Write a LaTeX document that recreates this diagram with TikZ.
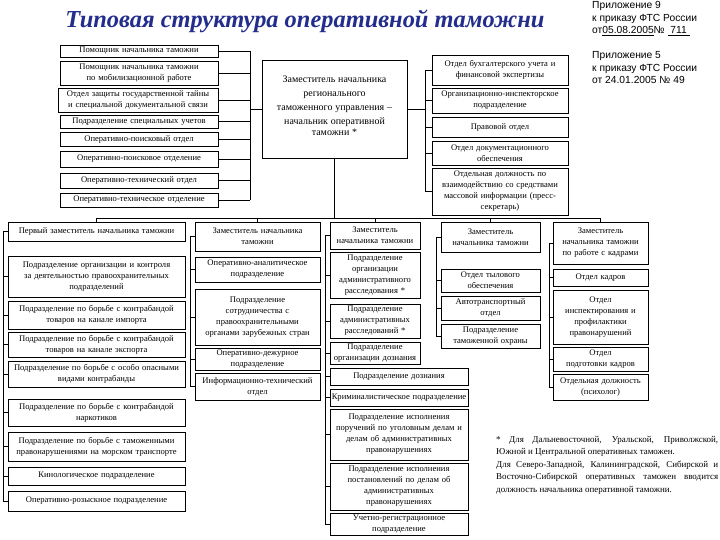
\documentclass[tikz,border=0pt]{standalone}
\usepackage{fontspec}
\setmainfont{Liberation Serif}
\newfontfamily\notefont{Liberation Sans}
\definecolor{titleblue}{RGB}{35,45,140}
\newcommand{\bx}[6]{%
 \pgfmathsetmacro{\bxw}{#4-#2}%
 \pgfmathsetmacro{\bxh}{#5-#3}%
 \pgfmathsetmacro{\bxt}{#4-#2-3}%
 \node[box, minimum width=\bxw bp, minimum height=\bxh bp, text width=\bxt bp] (#1) at ({(#2+#4)/2},{(#3+#5)/2}) {#6};}
\begin{document}
\begin{tikzpicture}[x=1bp,y=-1bp,
 box/.style={draw, line width=0.6bp, inner sep=0pt, align=center, font=\fontsize{8.6}{11}\selectfont},
 conn/.style={draw, line width=0.7bp}]
\useasboundingbox (0,0) rectangle (720,540);
\fill[white] (0,0) rectangle (720,540);
% title and notes
\node[font=\fontsize{24.5}{28}\selectfont\bfseries\itshape, text=titleblue, inner sep=0pt] (title) at (305,21) {Типовая структура оперативной таможни};
\node[anchor=north west, inner sep=0pt, align=left, font=\notefont\fontsize{10.3}{12.8}\selectfont] (note1) at (592,1) {Приложение 9\\к приказу ФТС России\\от\underline{05.08.2005}№ \underline{ 711 }};
\node[anchor=north west, inner sep=0pt, align=left, font=\notefont\fontsize{10.3}{12.8}\selectfont] (note2) at (592,51) {Приложение 5\\к приказу ФТС России\\от 24.01.2005 № 49};
\node[anchor=north west, inner sep=0pt, align=left, font=\fontsize{9}{12.6}\selectfont] (foot) at (496,436) {\makebox[222bp][s]{* Для Дальневосточной, Уральской, Приволжской,}\\Южной и Центральной оперативных таможен.\\\makebox[222bp][s]{Для Северо-Западной, Калининградской, Сибирской и}\\\makebox[222bp][s]{Восточно-Сибирской оперативных таможен вводится}\\должность начальника оперативной таможни.};
% centre
\bx{head}{262}{60}{407}{158}{\fontsize{10}{14}\selectfont Заместитель начальника\\регионального\\таможенного управления –\\начальник оперативной\\таможни *\vspace*{6bp}}
% left top column
\bx{lt1}{60}{45}{218}{57}{Помощник начальника таможни}
\bx{lt2}{60}{61}{218}{85}{Помощник начальника таможни\\по мобилизационной работе}
\bx{lt3}{58}{88}{218}{112}{Отдел защиты государственной тайны\\и специальной документальной связи}
\bx{lt4}{60}{115}{218}{128}{Подразделение специальных учетов}
\bx{lt5}{60}{132}{218}{146}{Оперативно-поисковый отдел}
\bx{lt6}{60}{151}{218}{167}{Оперативно-поисковое отделение}
\bx{lt7}{60}{173}{218}{188}{Оперативно-технический отдел}
\bx{lt8}{60}{193}{218}{207}{Оперативно-техническое отделение}
% right top column
\bx{rt1}{432}{55}{568}{85}{Отдел бухгалтерского учета и\\финансовой экспертизы}
\bx{rt2}{432}{88}{568}{113}{Организационно-инспекторское\\подразделение}
\bx{rt3}{432}{117}{568}{137}{Правовой отдел}
\bx{rt4}{432}{141}{568}{165}{Отдел документационного\\обеспечения}
\bx{rt5}{432}{168}{568}{215}{Отдельная должность по\\взаимодействию со средствами\\массовой информации (пресс-\\секретарь)}
% deputies
\bx{d1}{8}{222}{185}{241}{Первый заместитель начальника таможни}
\bx{d2}{195}{222}{320}{251}{Заместитель начальника\\таможни}
\bx{d3}{330}{222}{420}{249}{Заместитель\\начальника таможни}
\bx{d4}{441}{222}{540}{252}{Заместитель\\начальника таможни}
\bx{d5}{553}{222}{648}{264}{Заместитель\\начальника таможни\\по работе с кадрами}
% column 1
\bx{l1}{8}{256}{185}{297}{Подразделение организации и контроля\\за деятельностью правоохранительных\\подразделений}
\bx{l2}{8}{301}{185}{329}{Подразделение по борьбе с контрабандой\\товаров на канале импорта}
\bx{l3}{8}{332}{185}{357}{Подразделение по борьбе с контрабандой\\товаров на канале экспорта}
\bx{l4}{8}{361}{185}{387}{Подразделение по борьбе с особо опасными\\видами контрабанды}
\bx{l5}{8}{399}{185}{426}{Подразделение по борьбе с контрабандой\\наркотиков}
\bx{l6}{8}{432}{185}{461}{Подразделение по борьбе с таможенными\\правонарушениями на морском транспорте}
\bx{l7}{8}{467}{185}{485}{Кинологическое подразделение}
\bx{l8}{8}{491}{185}{511}{Оперативно-розыскное подразделение}
% column 2
\bx{c1}{195}{257}{320}{282}{Оперативно-аналитическое\\подразделение}
\bx{c2}{195}{289}{320}{345}{Подразделение\\сотрудничества с\\правоохранительными\\органами зарубежных стран}
\bx{c3}{195}{348}{320}{370}{Оперативно-дежурное\\подразделение}
\bx{c4}{195}{373}{320}{400}{Информационно-технический\\отдел}
% column 3
\bx{m1}{330}{252}{420}{298}{Подразделение\\организации\\административного\\расследования *}
\bx{m2}{330}{304}{420}{338}{Подразделение\\административных\\расследований *}
\bx{m3}{330}{342}{420}{364}{Подразделение\\организации дознания}
\bx{m4}{330}{368}{468}{385}{Подразделение дознания}
\bx{m5}{330}{389}{468}{406}{Криминалистическое подразделение}
\bx{m6}{330}{409}{468}{460}{Подразделение исполнения\\поручений по уголовным делам и\\делам об административных\\правонарушениях}
\bx{m7}{330}{463}{468}{510}{Подразделение исполнения\\постановлений по делам об\\административных\\правонарушениях}
\bx{m8}{330}{513}{468}{535}{Учетно-регистрационное\\подразделение}
% column 4
\bx{f1}{441}{269}{540}{292}{Отдел тылового\\обеспечения}
\bx{f2}{441}{296}{540}{320}{Автотранспортный\\отдел}
\bx{f3}{441}{324}{540}{348}{Подразделение\\таможенной охраны}
% column 5
\bx{g1}{553}{269}{648}{286}{Отдел кадров}
\bx{g2}{553}{290}{648}{344}{Отдел\\инспектирования и\\профилактики\\правонарушений}
\bx{g3}{553}{347}{648}{371}{Отдел\\подготовки кадров}
\bx{g4}{553}{374}{648}{400}{Отдельная должность\\(психолог)}
% trunks
\coordinate (ltk) at (250,0);
\coordinate (rtk) at (425,0);
\coordinate (bus) at (0,218);
\coordinate (k1) at (3,0);
\coordinate (k2) at (190,0);
\coordinate (k3) at (325,0);
\coordinate (k4) at (436,0);
\coordinate (k5) at (549,0);
\foreach \n in {lt1,lt2,lt3,lt4,lt5,lt6,lt7,lt8}{\draw[conn] (\n.east) -- (\n.east -| ltk);}
\draw[conn] (lt1.east -| ltk) -- (lt8.east -| ltk);
\draw[conn] (head.west) -- (head.west -| ltk);
\foreach \n in {rt1,rt2,rt3,rt4,rt5}{\draw[conn] (\n.west) -- (\n.west -| rtk);}
\draw[conn] (rt1.west -| rtk) -- (rt5.west -| rtk);
\draw[conn] (head.east) -- (head.east -| rtk);
\draw[conn] (head.south) -- (head.south |- bus);
\draw[conn] (d1.north |- bus) -- (d5.north |- bus);
\foreach \n in {d1,d2,d3,d4,d5}{\draw[conn] (\n.north |- bus) -- (\n.north);}
% column trunks
\draw[conn] (d1.west) -- (d1.west -| k1) -- (l8.west -| k1);
\foreach \n in {l1,l2,l3,l4,l5,l6,l7,l8}{\draw[conn] (\n.west) -- (\n.west -| k1);}
\draw[conn] (d2.west) -- (d2.west -| k2) -- (c4.west -| k2);
\foreach \n in {c1,c2,c3,c4}{\draw[conn] (\n.west) -- (\n.west -| k2);}
\draw[conn] (d3.west) -- (d3.west -| k3) -- (m8.west -| k3);
\foreach \n in {m1,m2,m3,m4,m5,m6,m7,m8}{\draw[conn] (\n.west) -- (\n.west -| k3);}
\draw[conn] (d4.west) -- (d4.west -| k4) -- (f3.west -| k4);
\foreach \n in {f1,f2,f3}{\draw[conn] (\n.west) -- (\n.west -| k4);}
\draw[conn] (d5.west) -- (d5.west -| k5) -- (g4.west -| k5);
\foreach \n in {g1,g2,g3,g4}{\draw[conn] (\n.west) -- (\n.west -| k5);}
\end{tikzpicture}
\end{document}
